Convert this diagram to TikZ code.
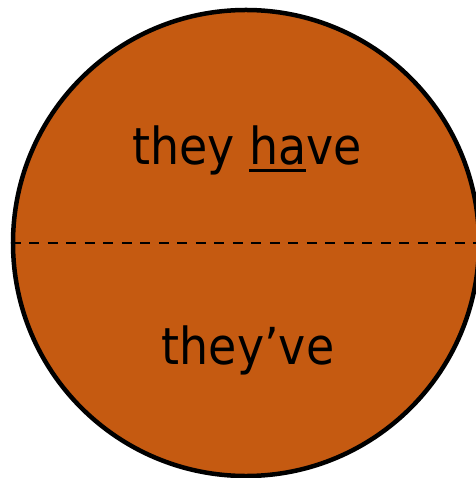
\documentclass[tikz,border=0pt]{standalone}
\usepackage{fontspec}
\setmainfont{DejaVu Sans}[FakeStretch=0.9]
\definecolor{discfill}{HTML}{C55A11}
\newcommand\myuline[1]{\setbox0\hbox{#1}\rlap{\rule[-7.2bp]{\wd0}{2.8bp}}\box0}
\tikzset{
  disc/.style={circle, draw=black, line width=4.5bp, fill=discfill, minimum size=466bp, inner sep=0pt},
  divider/.style={line width=2bp, dash pattern=on 10bp off 8.5bp},
  word/.style={font=\fontsize{51bp}{51bp}\selectfont, anchor=base, inner sep=0pt, text=black}
}
\begin{document}
\begin{tikzpicture}[x=1bp,y=-1bp]
\useasboundingbox (0,0) rectangle (476,478);
\clip (0,0) rectangle (476,478);
\node[disc] (circ) at (246,243) {};
\draw[divider] (circ.west) -- (circ.east);
\node[word] (top) at (247,165) {they \myuline{ha}ve};
\node[word] (bottom) at (248,364) {they’ve};
\end{tikzpicture}
\end{document}
